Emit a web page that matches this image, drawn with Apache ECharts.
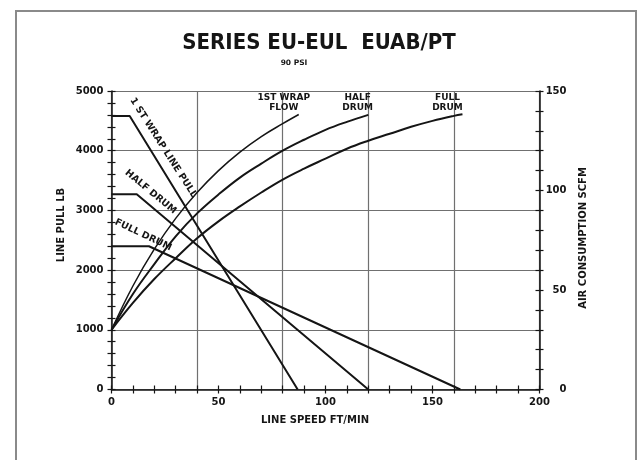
<!DOCTYPE html>
<html>
<head>
<meta charset="utf-8">
<script src="https://cdn.jsdelivr.net/npm/echarts@6/dist/echarts.min.js"></script>
<style>html,body{margin:0;padding:0;background:#fff}#c{width:638px;height:460px}</style>
</head>
<body>
<div id="c"></div>
<script>
// ---- data (line speed ft/min vs line pull lb / air consumption scfm) ----
const pullWrapX = [0, 8.5, 87];
const pullWrapY = [4580, 4580, 0];
const pullHalfX = [0, 11.8, 120];
const pullHalfY = [3270, 3270, 0];
const pullFullX = [0, 17.5, 163];
const pullFullY = [2400, 2400, 0];

const flowWrapX = [0, 10, 20, 30, 40, 50, 60, 70, 80, 87.5];
const flowWrapY = [30, 52, 70.5, 86, 99, 110, 119.3, 127.1, 133.6, 138.2];
const flowHalfX = [0, 10, 20, 30, 40, 50, 60, 70, 80, 90, 100, 110, 120];
const flowHalfY = [30, 48, 63, 77, 88.5, 98, 106.5, 113.5, 120, 125.5, 130.5, 134.5, 138];
const flowFullX = [0, 10, 20, 30, 40, 50, 60, 70, 80, 90, 100, 110, 120, 130, 140, 150, 160, 164];
const flowFullY = [30, 43.5, 55.5, 66, 76, 84.5, 92, 99, 105.5, 111, 116, 121, 125, 128.5, 132, 135, 137.5, 138.3];

const xTickLabels = [0, 50, 100, 150, 200];
const leftTickLabels = [0, 1000, 2000, 3000, 4000, 5000];
const rightTickLabels = [0, 50, 100, 150];

const pullNotes = [
  { text: '1 ST WRAP LINE PULL', x: 24.2, y: 4050, angle: -57.5 },
  { text: 'HALF DRUM', x: 18.3, y: 3310, angle: -39.5 },
  { text: 'FULL DRUM', x: 14.8, y: 2590, angle: -25.5 }
];
const flowNotes = [
  { text: '1ST WRAP\nFLOW', x: 80.5, y: 144 },
  { text: 'HALF\nDRUM', x: 115, y: 144 },
  { text: 'FULL\nDRUM', x: 157, y: 144 }
];

const zip = (xs, ys) => xs.map((x, i) => [x, ys[i]]);

const INK = '#151515';
const GRIDC = '#707070';
const FONT = "'DejaVu Sans', 'Liberation Sans', sans-serif";
const tickFont = { color: INK, fontFamily: FONT, fontWeight: 'bold', fontSize: 10 };

const chart = echarts.init(document.getElementById('c'), null, { renderer: 'canvas' });

function lineSeries(name, xs, ys, yIdx, width, smooth) {
  return {
    name, type: 'line', xAxisIndex: 0, yAxisIndex: yIdx,
    data: zip(xs, ys), showSymbol: false, symbol: 'none',
    smooth: smooth, lineStyle: { color: INK, width: width, join: 'round' }, z: 5
  };
}

function noteLabel(extra) {
  return Object.assign({
    show: true, position: 'inside', color: INK, opacity: 1, fontFamily: FONT, fontWeight: 'bold',
    textBorderWidth: 0, textBorderColor: 'transparent', textShadowBlur: 0
  }, extra);
}

const option = {
  animation: false,
  backgroundColor: '#fff',
  grid: { left: 111.5, right: 98.5, top: 91, bottom: 70.5 },
  xAxis: [
    {
      type: 'value', min: 0, max: 200, interval: 10, position: 'bottom',
      axisLine: { show: true, lineStyle: { color: INK, width: 1.5 } },
      axisTick: { show: true, inside: false, length: 4, lineStyle: { color: INK, width: 1.2 } },
      axisLabel: Object.assign({ margin: 8, formatter: v => xTickLabels.includes(v) ? String(v) : '' }, tickFont),
      splitLine: { show: false }
    },
    {
      type: 'value', min: 0, max: 200, interval: 10, position: 'bottom',
      axisLine: { show: false },
      axisTick: { show: true, inside: true, length: 4, lineStyle: { color: INK, width: 1.2 } },
      axisLabel: { show: false }, splitLine: { show: false }
    },
    {
      type: 'value', min: 0, max: 200, interval: 40, position: 'bottom',
      axisLine: { show: false }, axisTick: { show: false }, axisLabel: { show: false },
      splitLine: { show: true, lineStyle: { color: GRIDC, width: 1.2 } }
    }
  ],
  yAxis: [
    {
      type: 'value', min: 0, max: 5000, interval: 200, position: 'left',
      axisLine: { show: true, lineStyle: { color: INK, width: 1.5 } },
      axisTick: { show: true, inside: false, length: 4, lineStyle: { color: INK, width: 1.2 } },
      axisLabel: Object.assign({ margin: 8, formatter: v => leftTickLabels.includes(v) ? String(v) : '' }, tickFont),
      splitLine: { show: false }
    },
    {
      type: 'value', min: 0, max: 5000, interval: 200, position: 'left',
      axisLine: { show: false },
      axisTick: { show: true, inside: true, length: 4, lineStyle: { color: INK, width: 1.2 } },
      axisLabel: { show: false }, splitLine: { show: false }
    },
    {
      type: 'value', min: 0, max: 5000, interval: 1000, position: 'left',
      axisLine: { show: false }, axisTick: { show: false }, axisLabel: { show: false },
      splitLine: { show: true, lineStyle: { color: GRIDC, width: 1.2 } }
    },
    {
      type: 'value', min: 0, max: 150, interval: 10, position: 'right',
      axisLine: { show: true, lineStyle: { color: INK, width: 1.5 } },
      axisTick: { show: true, inside: false, length: 4, lineStyle: { color: INK, width: 1.2 } },
      axisLabel: Object.assign({ margin: 27, align: 'right', formatter: v => rightTickLabels.includes(v) ? String(v) : '' }, tickFont),
      splitLine: { show: false }
    },
    {
      type: 'value', min: 0, max: 150, interval: 10, position: 'right',
      axisLine: { show: false },
      axisTick: { show: true, inside: true, length: 4, lineStyle: { color: INK, width: 1.2 } },
      axisLabel: { show: false }, splitLine: { show: false }
    }
  ],
  series: [
    lineSeries('1st wrap line pull', pullWrapX, pullWrapY, 0, 2, false),
    lineSeries('half drum line pull', pullHalfX, pullHalfY, 0, 2, false),
    lineSeries('full drum line pull', pullFullX, pullFullY, 0, 2, false),
    lineSeries('1st wrap flow', flowWrapX, flowWrapY, 3, 1.5, 0.4),
    lineSeries('half drum flow', flowHalfX, flowHalfY, 3, 2, 0.4),
    lineSeries('full drum flow', flowFullX, flowFullY, 3, 2, 0.4),
    {
      name: 'pull notes', type: 'scatter', xAxisIndex: 0, yAxisIndex: 0, symbolSize: 0, silent: true,
      itemStyle: { color: INK, opacity: 1 },
      data: pullNotes.map(n => ({
        value: [n.x, n.y],
        label: noteLabel({ formatter: n.text, rotate: n.angle, fontSize: 9.5 })
      })), z: 6
    },
    {
      name: 'flow notes', type: 'scatter', xAxisIndex: 0, yAxisIndex: 3, symbolSize: 0, silent: true,
      itemStyle: { color: INK, opacity: 1 },
      data: flowNotes.map(n => ({
        value: [n.x, n.y],
        label: noteLabel({ formatter: n.text, align: 'center', fontSize: 9, lineHeight: 10 })
      })), z: 6
    }
  ],
  graphic: [
    { type: 'rect', shape: { x: 16, y: 11, width: 620, height: 470 }, style: { fill: null, stroke: '#8a8a8a', lineWidth: 2 }, z: -1, silent: true },
    { type: 'text', x: 319, y: 43.5, style: { text: 'SERIES EU-EUL  EUAB/PT', textAlign: 'center', textVerticalAlign: 'middle',
      fill: INK, font: "bold 22px 'Liberation Sans Narrow', 'DejaVu Sans Condensed', 'Liberation Sans', sans-serif" } },
    { type: 'text', x: 294, y: 63, style: { text: '90 PSI', textAlign: 'center', textVerticalAlign: 'middle',
      fill: INK, font: "bold 7.5px 'DejaVu Sans', sans-serif" } },
    { type: 'text', x: 61, y: 225, rotation: Math.PI / 2, style: { text: 'LINE PULL LB', textAlign: 'center', textVerticalAlign: 'middle',
      fill: INK, font: "bold 10px 'DejaVu Sans', sans-serif" } },
    { type: 'text', x: 583, y: 238, rotation: Math.PI / 2, style: { text: 'AIR CONSUMPTION SCFM', textAlign: 'center', textVerticalAlign: 'middle',
      fill: INK, font: "bold 10px 'DejaVu Sans', sans-serif" } },
    { type: 'text', x: 315, y: 420, style: { text: 'LINE SPEED FT/MIN', textAlign: 'center', textVerticalAlign: 'middle',
      fill: INK, font: "bold 10px 'DejaVu Sans', sans-serif" } }
  ]
};
chart.setOption(option);
</script>
</body>
</html>
